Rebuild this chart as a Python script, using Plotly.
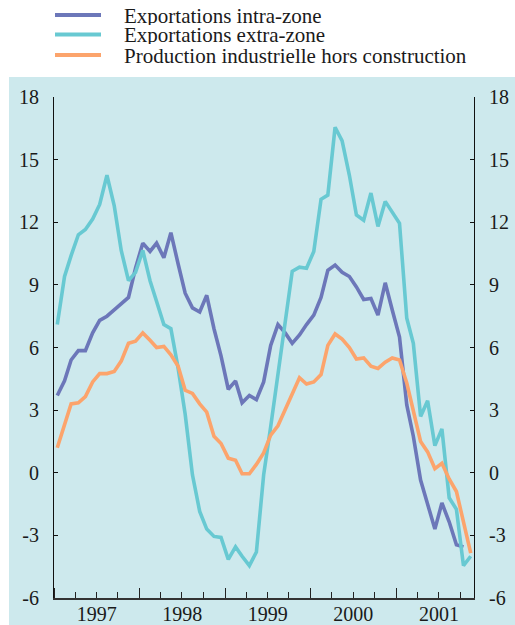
import pandas as pd
import plotly.graph_objects as go

# Monthly observations, January 1997 to November 2001 (mid-month)
months = pd.date_range(start="1997-01-01", periods=59, freq="MS") + pd.Timedelta(days=14)

intra_zone = [3.7, 4.4, 5.4, 5.85, 5.85, 6.7, 7.3, 7.5, 7.8, 8.1, 8.4, 9.8,
              11.0, 10.6, 11.0, 10.3, 11.5, 10.0, 8.6, 7.9, 7.7, 8.5, 6.9, 5.6,
              4.0, 4.4, 3.35, 3.7, 3.5, 4.35, 6.1, 7.1, 6.7, 6.2, 6.6, 7.1,
              7.55, 8.4, 9.7, 9.95, 9.6, 9.4, 8.9, 8.3, 8.35, 7.55, 9.1, 7.8,
              6.5, 3.25, 1.75, -0.35, -1.45, -2.7, -1.45, -2.35, -3.45, -3.55, None]

extra_zone = [7.1, 9.4, 10.4, 11.4, 11.65, 12.15, 12.85, 14.25, 12.8, 10.65, 9.2, 9.6,
              10.65, 9.2, 8.2, 7.1, 6.9, 5.0, 2.8, -0.1, -1.85, -2.7, -3.05, -3.1,
              -4.15, -3.55, -4.0, -4.45, -3.8, -0.1, 2.2, 4.7, 7.4, 9.65, 9.85, 9.8,
              10.6, 13.1, 13.3, 16.55, 15.9, 14.25, 12.35, 12.1, 13.4, 11.8, 13.0, 12.45,
              11.95, 7.4, 6.2, 2.7, 3.45, 1.3, 2.1, -1.2, -1.75, -4.45, -4.0]

production = [1.2, 2.3, 3.3, 3.35, 3.65, 4.35, 4.75, 4.75, 4.85, 5.35, 6.2, 6.3,
              6.7, 6.35, 6.0, 6.05, 5.65, 5.1, 3.95, 3.8, 3.3, 2.9, 1.75, 1.4,
              0.7, 0.6, -0.05, -0.05, 0.4, 0.95, 1.8, 2.25, 3.0, 3.8, 4.55, 4.25,
              4.35, 4.7, 6.1, 6.65, 6.4, 6.0, 5.45, 5.5, 5.1, 5.0, 5.3, 5.5,
              5.4, 4.3, 3.0, 1.5, 1.0, 0.2, 0.45, -0.3, -0.9, -2.35, -3.85]

series_names = ["Exportations intra-zone", "Exportations extra-zone",
                "Production industrielle hors construction"]
series_colors = ["#6c77b9", "#68c9d2", "#fca46c"]

y_tickvals = [-6, -3, 0, 3, 6, 9, 12, 15, 18]
y_ticktext = ["-6", "-3", "0", "3", "6", "9", "12", "15", "18"]

FONT = "Liberation Serif"
BG = "#cde9ed"
TXT = "#1a1a1a"

L, R, T, B = 54, 41, 97, 27
W, H = 515, 625
pw, ph = W - L - R, H - T - B


def px_x(p):
    return (p - L) / pw


def px_y(p):
    return 1 + (T - p) / ph


fig = go.Figure()
for k, (name, vals, col) in enumerate(zip(series_names, [intra_zone, extra_zone, production], series_colors)):
    fig.add_trace(go.Scatter(x=months, y=vals, name=name, mode="lines",
                             yaxis="y2" if k == 2 else "y",
                             line=dict(color=col, width=3.6), showlegend=False))

# background panel
fig.add_shape(type="rect", xref="paper", yref="paper", layer="below",
              x0=px_x(9), x1=px_x(W + 2), y0=px_y(H + 2), y1=px_y(77),
              fillcolor=BG, line=dict(width=0))

# legend (drawn at the top, outside the panel)
legend_rows = [15, 34.5, 55]
for name, col, ry in zip(series_names, series_colors, legend_rows):
    fig.add_shape(type="line", xref="paper", yref="paper",
                  x0=px_x(55), x1=px_x(101), y0=px_y(ry), y1=px_y(ry),
                  line=dict(color=col, width=4))
    fig.add_annotation(xref="paper", yref="paper", x=px_x(123), y=px_y(ry),
                       xanchor="left", yanchor="middle", showarrow=False,
                       height=19, borderpad=0, valign="middle",
                       text=name, font=dict(family=FONT, size=21, color=TXT))

yaxis_common = dict(range=[-6, 18], tickvals=y_tickvals, ticktext=y_ticktext,
                    ticks="inside", ticklen=4, tickcolor="#111", tickwidth=1,
                    showline=True, linecolor="#111", linewidth=1,
                    showgrid=False, zeroline=False, fixedrange=True,
                    ticklabelstandoff=10,
                    tickfont=dict(family=FONT, size=20, color=TXT))

fig.update_layout(
    width=W, height=H,
    margin=dict(l=L, r=R, t=T, b=B, autoexpand=False),
    paper_bgcolor="white",
    plot_bgcolor="rgba(0,0,0,0)",
    font=dict(family=FONT, size=20, color=TXT),
    showlegend=False,
    xaxis=dict(type="date", range=["1997-01-01", "2001-11-29"],
               tick0="1997-01-01", dtick="M12", tickformat="%Y",
               ticklabelmode="period",
               ticks="inside", ticklen=10, tickcolor="#222", tickwidth=1.2,
               showline=True, linecolor="#333", linewidth=2,
               showgrid=False, zeroline=False,
               ticklabelstandoff=-3,
               minor=dict(dtick="M3", tick0="1997-01-01", ticks="inside",
                          ticklen=6, tickcolor="#222", tickwidth=1.2, showgrid=False),
               tickfont=dict(family=FONT, size=20, color=TXT)),
    yaxis=dict(side="left", **yaxis_common),
    yaxis2=dict(side="right", overlaying="y", matches="y", **yaxis_common),
)

fig.write_html("out.html", config={"displayModeBar": False},
               post_script="document.body.style.margin='0';document.body.style.padding='0';")
